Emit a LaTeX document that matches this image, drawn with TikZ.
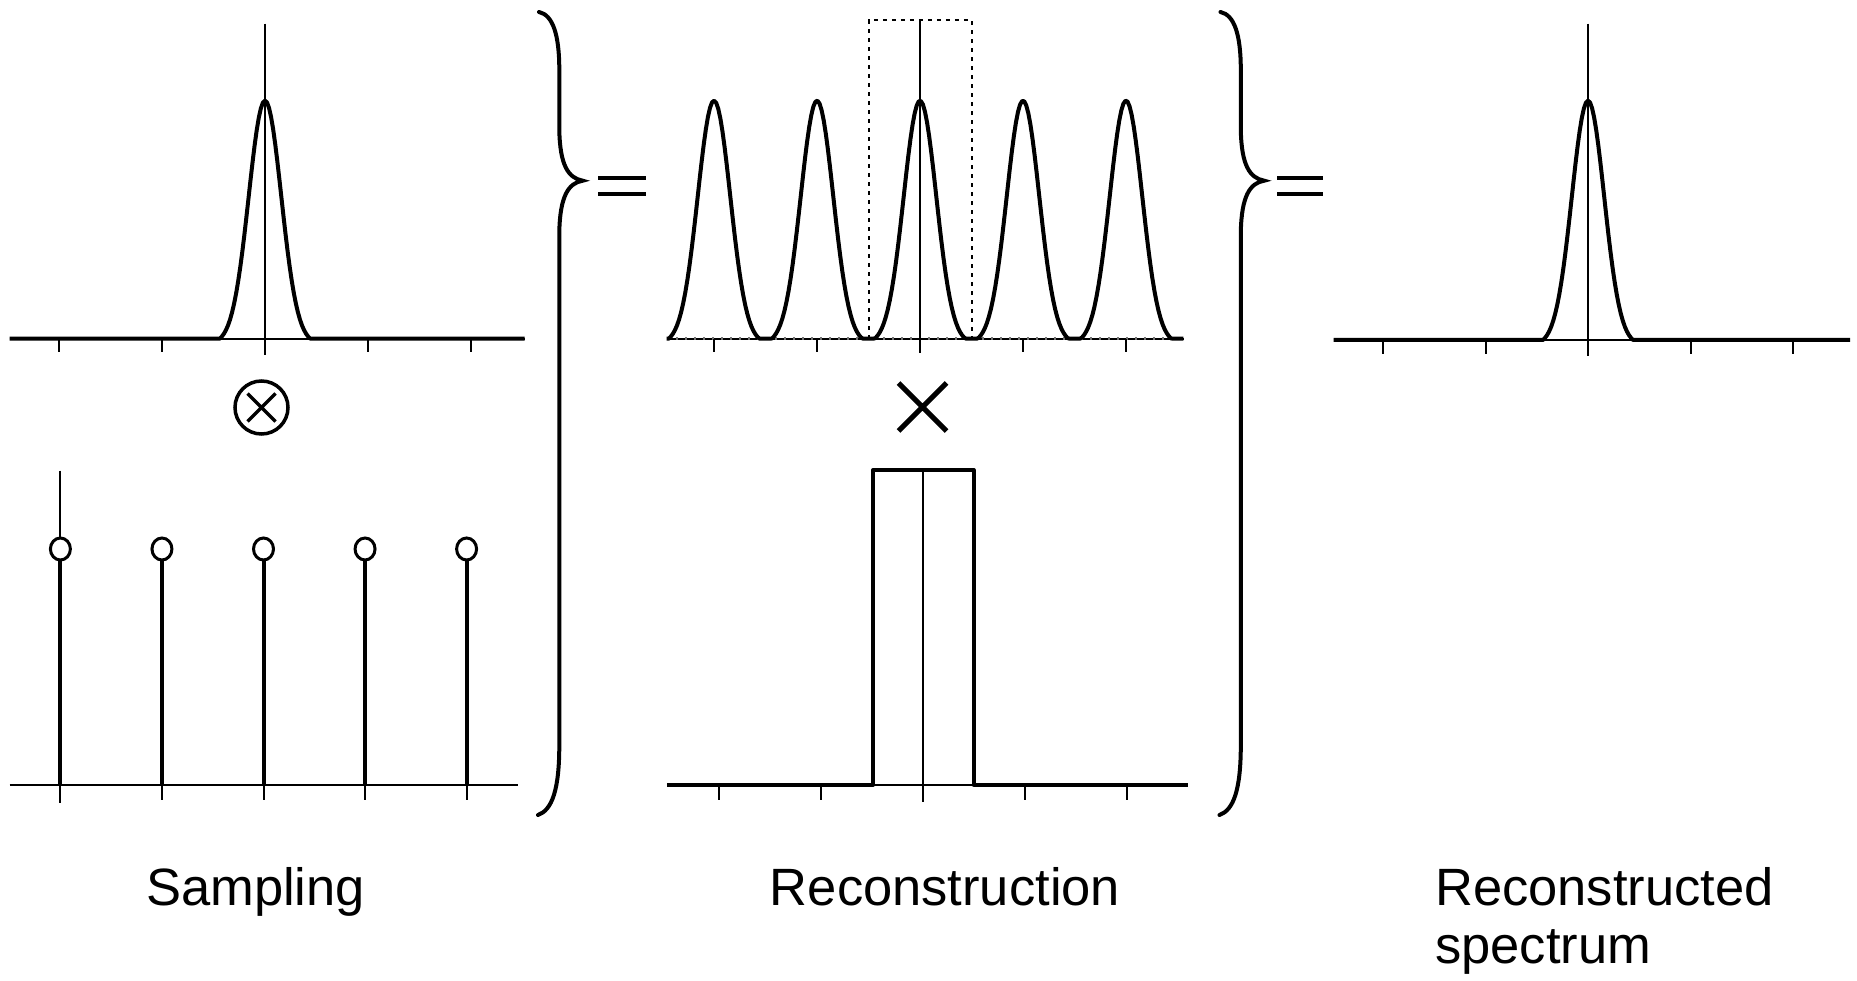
\documentclass[tikz,border=0pt]{standalone}
\usepackage{fontspec}
\setmainfont{Liberation Sans}
\begin{document}
\begin{tikzpicture}[x=1pt,y=-1pt,
  thinln/.style={line width=2pt},
  thickln/.style={line width=4pt, line join=round},
  bracestyle/.style={line width=4pt, line cap=round},
  eqstyle/.style={line width=4.5pt},
  lab/.style={inner sep=0pt, font=\fontsize{52.5}{60}\selectfont},
  dotbox/.style={line width=2pt, dash pattern=on 4pt off 5pt},
  declare function={gb(\u)=(abs(\u)<0.44)*(exp(-(\u)*(\u)/0.04993)-0.0207)/0.9793; pr(\u)=gb(\u-round(\u));}]
\useasboundingbox (0,0) rectangle (1857,981);

% ---------- panel 1: spectrum ----------
\def\ay{338.7}
\draw[thinln] (9.5,\ay) -- (524.6,\ay);
\foreach \k in {-2,-1,1,2} \draw[thinln] ({265+103*\k},\ay) -- ({265+103*\k},352);
\draw[thinln] (265,23.7) -- (265,355);
\draw[thickln] (9.5,\ay) -- ({265-0.44*103},\ay)
  -- plot[domain=-0.44:0.44,samples=45] ({265+103*\x},{\ay-238*gb(\x)})
  -- (524.6,\ay);

% ---------- panel 2: periodic spectrum ----------
\draw[thinln] (666.8,\ay) -- (1184,\ay);
\draw[line width=3.5pt, black!55, dash pattern=on 2pt off 7pt] (666.8,\ay) -- (1184,\ay);
\foreach \k in {-2,-1,1,2} \draw[thinln] ({920+103*\k},\ay) -- ({920+103*\k},352);
\draw[thinln] (920,20) -- (920,353);
\draw[dotbox] (868.5,\ay) -- (868.5,20) -- (971.5,20) -- (971.5,\ay);
\draw[thickln] plot[domain=-2.46:2.56,samples=251] ({920+103*\x},{\ay-238*pr(\x)});

% ---------- panel 3: reconstructed spectrum ----------
\def\cy{340}
\draw[thinln] (1333.5,\cy) -- (1850,\cy);
\foreach \k in {-2,-1,1,2} \draw[thinln] ({1588+102.5*\k},\cy) -- ({1588+102.5*\k},354);
\draw[thinln] (1588,23.7) -- (1588,356);
\draw[thickln] (1333.5,\cy) -- ({1588-0.44*102.5},\cy)
  -- plot[domain=-0.44:0.44,samples=45] ({1588+102.5*\x},{\cy-239.3*gb(\x)})
  -- (1850,\cy);

% ---------- otimes ----------
\draw[line width=3.5pt] (261.5,407.5) circle [radius=26.5];
\draw[line width=3.5pt] (247.5,393.5) -- (275.5,421.5) (247.5,421.5) -- (275.5,393.5);

% ---------- panel 4: sampling comb ----------
\def\by{785}
\draw[thinln] (9.5,\by) -- (517.5,\by);
\draw[thinln] (60.4,470.7) -- (60.4,803);
\foreach \k in {1,...,4} \draw[thinln] ({60.4+101.55*\k},\by) -- ({60.4+101.55*\k},800);
\foreach \k in {0,...,4} {
  \draw[thickln] ({60.4+101.55*\k},560) -- ({60.4+101.55*\k},\by);
  \draw[line width=3pt, fill=white] ({60.4+101.55*\k},549) ellipse [x radius=10, y radius=11];
}

% ---------- times ----------
\draw[line width=5pt] (898.5,383) -- (946.5,431) (898.5,431) -- (946.5,383);

% ---------- panel 5: rect filter ----------
\draw[thinln] (666.8,\by) -- (1188,\by);
\foreach \k in {-2,-1,1,2} \draw[thinln] ({922.5+102*\k},\by) -- ({922.5+102*\k},800);
\draw[thinln] (922.5,470) -- (922.5,802);
\draw[thickln] (666.8,\by) -- (873,\by) -- (873,470) -- (973.5,470) -- (973.5,\by) -- (1188,\by);

% ---------- braces ----------
\foreach \bx in {0,681.5} {
  \draw[bracestyle] ({539+\bx},12) .. controls ({553+\bx},15) and ({559.3+\bx},35) .. ({559.3+\bx},70)
    -- ({559.3+\bx},130) .. controls ({560+\bx},165) and ({568+\bx},178) .. ({582.7+\bx},180.7)
    .. controls ({568+\bx},183) and ({560+\bx},197) .. ({559.3+\bx},232)
    -- ({559.3+\bx},745) .. controls ({559.3+\bx},790) and ({552+\bx},810) .. ({538+\bx},815);
}
% ---------- equals ----------
\draw[eqstyle] (598,178) -- (646,178) (598,194) -- (646,194);
\draw[eqstyle] (1277,178) -- (1323,178) (1277,194) -- (1323,194);

% ---------- labels ----------
\node[lab, anchor=base] (labS) at (255.5,905) {Sampling};
\node[lab, anchor=base] (labR) at (945,905) {Reconstruction};
\node[lab, anchor=base west] (labRS1) at (1435,905) {Reconstructed};
\node[lab, anchor=base west] (labRS2) at (1435,963) {spectrum};
\end{tikzpicture}
\end{document}
